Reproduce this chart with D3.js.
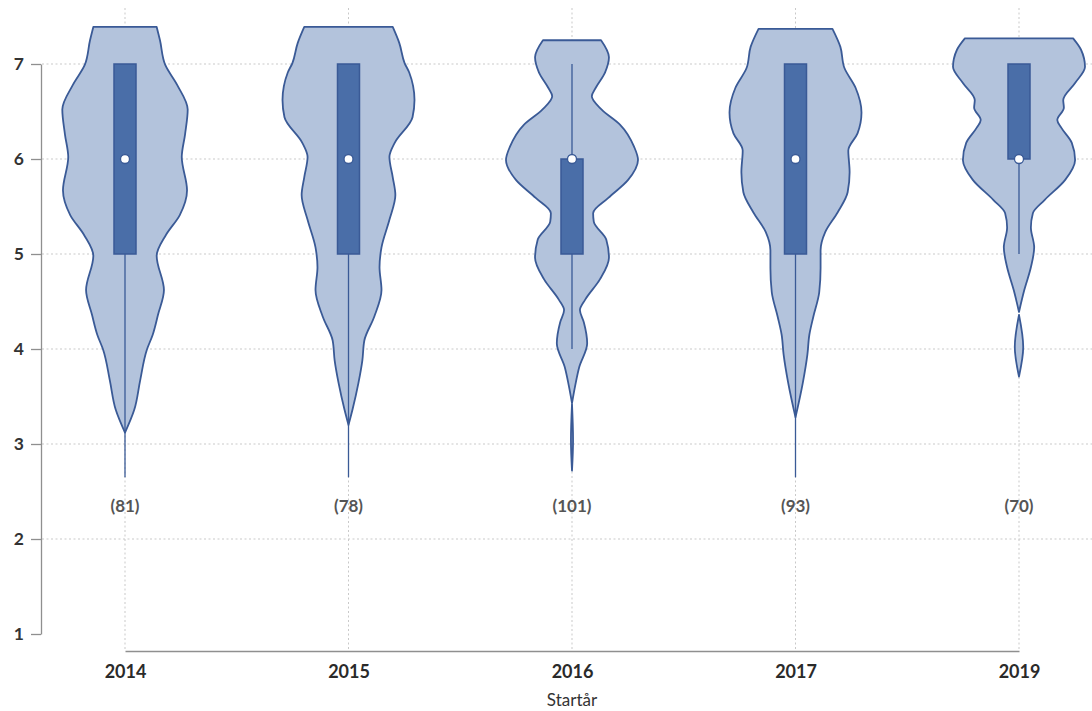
<!DOCTYPE html>
<html>
<head>
<meta charset="utf-8">
<script src="https://cdn.jsdelivr.net/npm/d3@7"></script>
<style>
  html, body { margin: 0; padding: 0; background: #fff; }
  svg { display: block; }
  text { font-family: Lato, "Open Sans", sans-serif; }
</style>
</head>
<body>
<svg id="chart" width="1092" height="711"></svg>
<script>
// Start years and respondents per year
const years = ["2014", "2015", "2016", "2017", "2019"];
const counts = [81, 78, 101, 93, 70];

// Box plot statistics per year
const q1 = [5, 5, 5, 5, 6];
const q3 = [7, 7, 6, 7, 7];
const medians = [6, 6, 6, 6, 6];
const whiskerLow = [2.65, 2.65, 4, 2.65, 5];
const whiskerHigh = [7, 7, 7, 7, 7];

// Relative density profiles [value, density], top to bottom; one array per connected piece
const density2014 = [[
  [7.39, 0.48], [7.25, 0.53], [6.99, 0.61], [6.78, 0.79], [6.52, 0.95], [6.26, 0.91],
  [6.02, 0.86], [5.67, 0.94], [5.41, 0.83], [5.20, 0.62], [4.98, 0.48],
  [4.62, 0.59], [4.36, 0.50], [4.15, 0.42], [3.99, 0.33], [3.67, 0.23], [3.36, 0.14], [3.12, 0]
]];
const density2015 = [[
  [7.39, 0.67], [7.22, 0.77], [7.01, 0.85], [6.91, 0.92], [6.62, 1.00], [6.44, 0.97],
  [6.17, 0.70], [6.02, 0.62], [5.81, 0.67], [5.62, 0.71], [5.36, 0.62], [5.07, 0.50],
  [4.86, 0.47], [4.62, 0.50], [4.34, 0.39], [4.09, 0.24], [3.88, 0.21], [3.64, 0.15],
  [3.36, 0.06], [3.20, 0]
]];
const density2016 = [[
  [7.25, 0.44], [7.07, 0.56], [6.91, 0.50], [6.75, 0.36], [6.66, 0.30], [6.52, 0.45],
  [6.36, 0.73], [6.13, 0.94], [5.99, 1.00], [5.78, 0.85], [5.59, 0.55], [5.43, 0.32],
  [5.34, 0.33], [5.15, 0.52], [4.96, 0.56], [4.73, 0.42], [4.52, 0.20], [4.41, 0.12],
  [4.28, 0.18], [4.06, 0.23], [3.81, 0.11], [3.62, 0.05], [3.43, 0]
], [
  [3.42, 0], [3.04, 0.016], [2.72, 0]
]];
const density2017 = [[
  [7.37, 0.56], [7.18, 0.68], [6.96, 0.74], [6.75, 0.91], [6.49, 1.00], [6.27, 0.94],
  [6.09, 0.80], [5.86, 0.82], [5.65, 0.79], [5.44, 0.64], [5.23, 0.45], [5.04, 0.38],
  [4.85, 0.38], [4.60, 0.36], [4.34, 0.27], [4.15, 0.21], [3.94, 0.18], [3.64, 0.11], [3.28, 0]
]];
const density2019 = [[
  [7.27, 0.82], [7.15, 0.94], [6.97, 1.00], [6.80, 0.85], [6.62, 0.67], [6.54, 0.68],
  [6.41, 0.58], [6.33, 0.64], [6.17, 0.80], [5.99, 0.85], [5.78, 0.70], [5.57, 0.39],
  [5.43, 0.21], [5.28, 0.18], [5.07, 0.23], [4.86, 0.18], [4.62, 0.08], [4.39, 0]
], [
  [4.36, 0], [4.02, 0.064], [3.71, 0]
]];
const densities = [density2014, density2015, density2016, density2017, density2019];

const yTicks = [1, 2, 3, 4, 5, 6, 7];
const countLabelValue = 2.35;

const svg = d3.select("#chart");

const x = d3.scalePoint().domain(years).range([125, 1019]);
const y = d3.scaleLinear().domain([1, 7]).range([634, 64]);
const w = d3.scaleLinear().domain([0, 1]).range([0, 66]);

const gridColor = "#c9c9c9";
const violinFill = "#b3c3dc";
const violinStroke = "#3a5a96";
const boxFill = "#4a6ea8";

// Grid
const grid = svg.append("g");
grid.selectAll("line.h").data(yTicks.filter(t => t > 1)).join("line")
  .attr("x1", 42).attr("x2", 1092)
  .attr("y1", d => y(d)).attr("y2", d => y(d))
  .attr("stroke", gridColor).attr("stroke-width", 1)
  .attr("stroke-dasharray", "2,2.5");
grid.selectAll("line.v").data(years).join("line")
  .attr("x1", d => x(d)).attr("x2", d => x(d))
  .attr("y1", 8).attr("y2", 651)
  .attr("stroke", gridColor).attr("stroke-width", 1)
  .attr("stroke-dasharray", "2,2.5");

// Y axis
const yAxis = svg.append("g")
  .attr("transform", "translate(41,0)")
  .call(d3.axisLeft(y).tickValues(yTicks).tickFormat(d3.format("d")).tickSize(10).tickSizeOuter(0).tickPadding(7));
yAxis.select(".domain").attr("stroke", "#8f8f8f").attr("stroke-width", 1.3);
yAxis.selectAll(".tick line").attr("stroke", "#8f8f8f").attr("stroke-width", 1.3);
yAxis.selectAll(".tick text")
  .attr("fill", "#333").attr("font-size", 17.5).attr("font-weight", "bold")
  .style("font-family", "Lato, sans-serif");

// X axis
const xAxis = svg.append("g")
  .attr("transform", "translate(0,651)")
  .call(d3.axisBottom(x).tickSize(0).tickSizeOuter(0).tickPadding(14));
xAxis.select(".domain").attr("stroke", "#8f8f8f").attr("stroke-width", 1.3);
xAxis.selectAll(".tick text")
  .attr("fill", "#2a2a2a").attr("font-size", 18).attr("font-weight", "bold")
  .style("font-family", "Lato, sans-serif");

svg.append("text")
  .attr("x", x("2016")).attr("y", 706)
  .attr("text-anchor", "middle")
  .attr("fill", "#333").attr("font-size", 17)
  .text("Startår");

// Violins
const violins = svg.append("g");
years.forEach((yr, i) => {
  const cx = x(yr);
  const area = d3.area()
    .y(d => y(d[0]))
    .x0(d => cx - w(d[1]))
    .x1(d => cx + w(d[1]))
    .curve(d3.curveMonotoneY);
  violins.selectAll(null).data(densities[i]).join("path")
    .attr("d", area)
    .attr("fill", violinFill)
    .attr("stroke", violinStroke)
    .attr("stroke-width", 1.8)
    .attr("stroke-linejoin", "round");
});

// Whiskers
svg.append("g").selectAll("line").data(years).join("line")
  .attr("x1", d => x(d)).attr("x2", d => x(d))
  .attr("y1", (d, i) => y(whiskerHigh[i]))
  .attr("y2", (d, i) => y(whiskerLow[i]))
  .attr("stroke", violinStroke).attr("stroke-width", 1.3);

// Boxes
const boxW = 22;
svg.append("g").selectAll("rect").data(years).join("rect")
  .attr("x", d => x(d) - boxW / 2)
  .attr("width", boxW)
  .attr("y", (d, i) => y(q3[i]))
  .attr("height", (d, i) => y(q1[i]) - y(q3[i]))
  .attr("fill", boxFill)
  .attr("stroke", violinStroke).attr("stroke-width", 1.5);

// Medians
svg.append("g").selectAll("circle").data(years).join("circle")
  .attr("cx", d => x(d))
  .attr("cy", (d, i) => y(medians[i]))
  .attr("r", 4.5)
  .attr("fill", "#fff")
  .attr("stroke", violinStroke).attr("stroke-width", 1.3);

// Counts
svg.append("g").selectAll("text").data(years).join("text")
  .attr("x", d => x(d))
  .attr("y", y(countLabelValue) + 6)
  .attr("text-anchor", "middle")
  .attr("fill", "#555").attr("font-size", 17).attr("font-weight", "bold")
  .text((d, i) => `(${counts[i]})`);
</script>
</body>
</html>
